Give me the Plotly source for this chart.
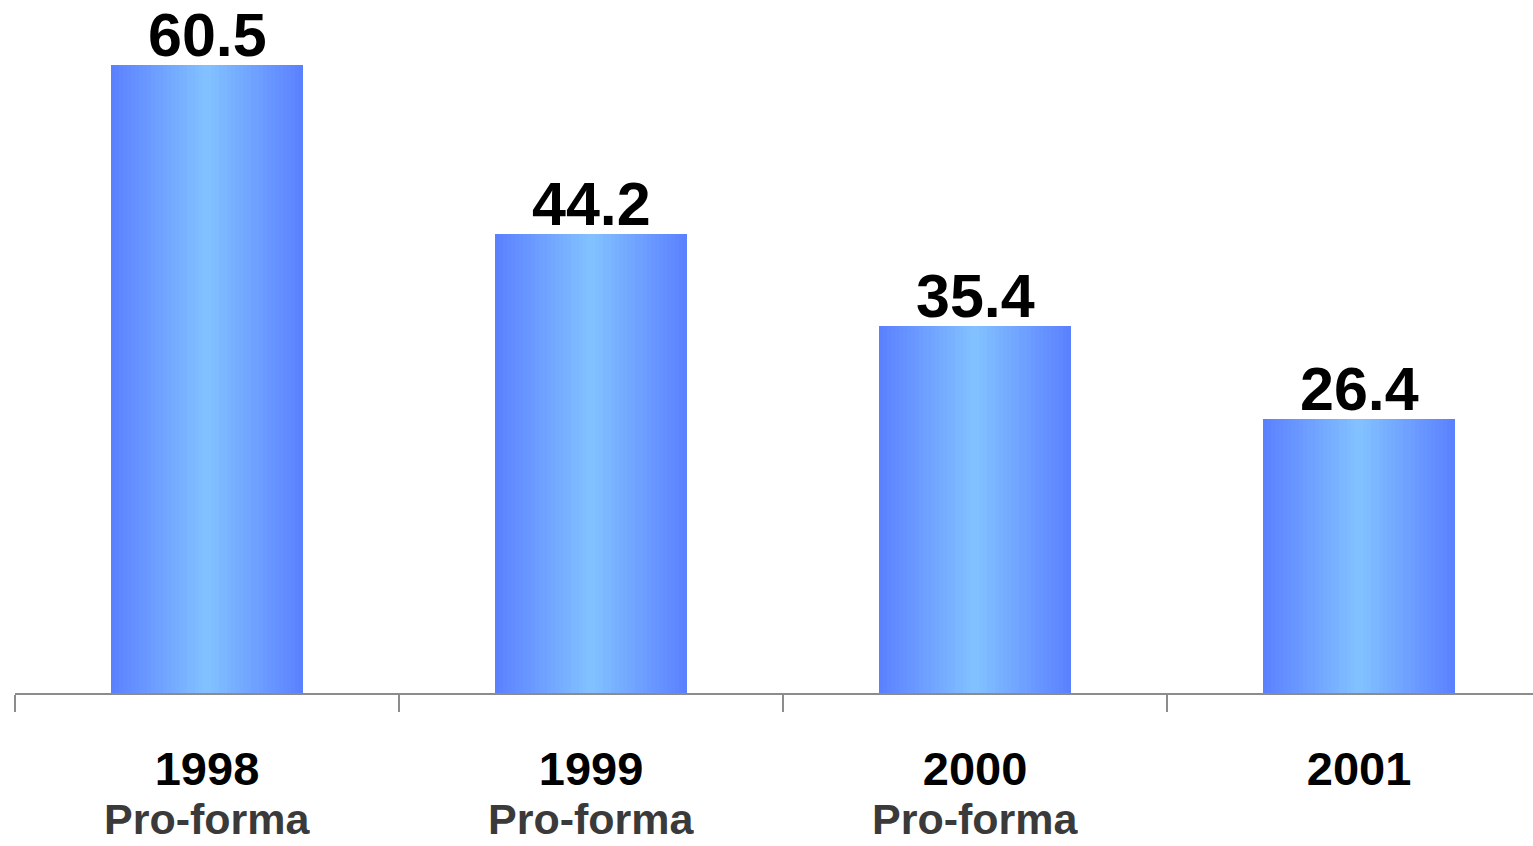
import plotly.graph_objects as go

categories = ["1998", "1999", "2000", "2001"]
values = [60.5, 44.2, 35.4, 26.4]
value_labels = ["60.5", "44.2", "35.4", "26.4"]
sublabels = ["Pro-forma", "Pro-forma", "Pro-forma", ""]

FONT = "Liberation Sans, Arial, sans-serif"
edge = (91, 128, 255)
center = (130, 194, 255)

N = 48
bar_w = 0.5
step = bar_w / N

fig = go.Figure()
for i in range(N):
    t = (i + 0.5) / N
    k = 1 - abs(2 * t - 1)  # 0 at edges, 1 at center
    col = tuple(round(e + (c - e) * k) for e, c in zip(edge, center))
    w = step * 2 if i < N - 1 else step
    fig.add_trace(go.Bar(
        x=categories, y=values,
        width=[w] * len(categories),
        offset=[-bar_w / 2 + i * step] * len(categories),
        marker=dict(color="rgb(%d,%d,%d)" % col, line=dict(width=0)),
        hoverinfo="skip", showlegend=False,
    ))

for idx, (v, s) in enumerate(zip(values, value_labels)):
    fig.add_annotation(
        x=idx, y=v, xref="x", yref="y", yanchor="bottom", yshift=-6,
        text="<b>%s</b>" % s, showarrow=False,
        font=dict(family=FONT, size=61, color="#000000"),
    )

for idx, s in enumerate(sublabels):
    if s:
        fig.add_annotation(
            x=idx, y=0, xref="x", yref="paper", yanchor="top",
            yshift=-101, text="<b>%s</b>" % s, showarrow=False,
            borderpad=0,
            font=dict(family=FONT, size=43, color="#3a3a3a"),
        )

fig.update_layout(
    width=1533, height=846,
    margin=dict(l=15, r=0, t=0, b=153),
    paper_bgcolor="white", plot_bgcolor="white",
    barmode="overlay", bargap=0,
    xaxis=dict(
        type="category", range=[-0.5, 3.453], tickson="boundaries",
        ticks="outside", ticklen=17, tickwidth=2, tickcolor="#8c8c8c",
        showline=True, linecolor="#8c8c8c", linewidth=2,
        showgrid=False, zeroline=False,
        tickvals=categories, ticktext=["<b>%s</b>" % c for c in categories],
        tickfont=dict(family=FONT, size=47, color="#000000"),
        ticklabelstandoff=34,
    ),
    yaxis=dict(range=[0, 66.76], visible=False, showgrid=False, zeroline=False),
)

fig.write_html("out.html")
